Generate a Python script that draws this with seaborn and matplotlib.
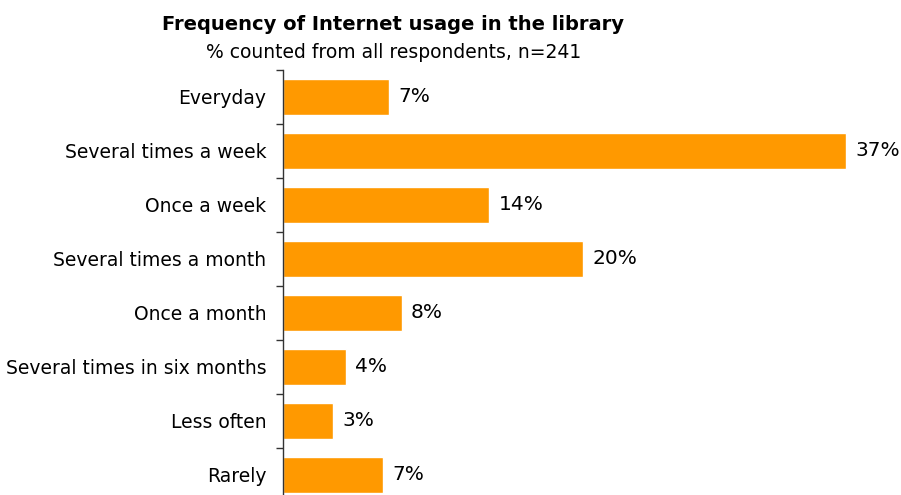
import matplotlib
matplotlib.use("Agg")
import matplotlib.pyplot as plt
import seaborn as sns
import pandas as pd

# Survey results (n=241), share of respondents per answer
categories = [
    "Everyday",
    "Several times a week",
    "Once a week",
    "Several times a month",
    "Once a month",
    "Several times in six months",
    "Less often",
    "Rarely",
]
percent = [7.05, 37.34, 13.69, 19.92, 7.88, 4.15, 3.32, 6.64]

title = "Frequency of Internet usage in the library"
subtitle = "% counted from all respondents, n=241"

df = pd.DataFrame({"category": categories, "percent": percent})

sns.set_theme(style="white")
plt.rcParams["font.family"] = ["DejaVu Sans"]

fig = plt.figure(figsize=(9.01, 4.95), dpi=100)
W, H = 901, 495
ax = fig.add_axes([283 / W, -7 / H, (886 - 283) / W, 432 / H])

sns.barplot(data=df, y="category", x="percent", orient="h",
            color="#FF9900", saturation=1, width=0.67, ax=ax)

for i, v in enumerate(percent):
    ax.text(v + 0.6, i, f"{v:.0f}%", va="center", ha="left",
            fontsize=14.5, color="black")

ax.set_xlim(0, 40)
ax.set_ylim(len(categories) - 0.5, -0.5)
ax.set_xlabel("")
ax.set_ylabel("")
ax.set_xticks([])

# Category labels without tick marks; boundary ticks between categories
ax.tick_params(axis="y", which="major", length=0, pad=12, labelsize=13.5,
               labelcolor="black")
ax.set_yticks(range(len(categories)), minor=False)
ax.set_yticks([i - 0.5 for i in range(len(categories) + 1)], minor=True)
ax.tick_params(axis="y", which="minor", length=5, width=1, color="#333333",
               direction="out", left=True)

for side in ["top", "right", "bottom"]:
    ax.spines[side].set_visible(False)
ax.spines["left"].set_color("#333333")
ax.spines["left"].set_linewidth(1)

fig.text(393 / W, 1 - 24 / H, title, ha="center", va="center",
         fontsize=14, fontweight="bold", color="black")
fig.text(394 / W, 1 - 52 / H, subtitle, ha="center", va="center",
         fontsize=13.5, color="black")

fig.savefig("out.png", dpi=100)
